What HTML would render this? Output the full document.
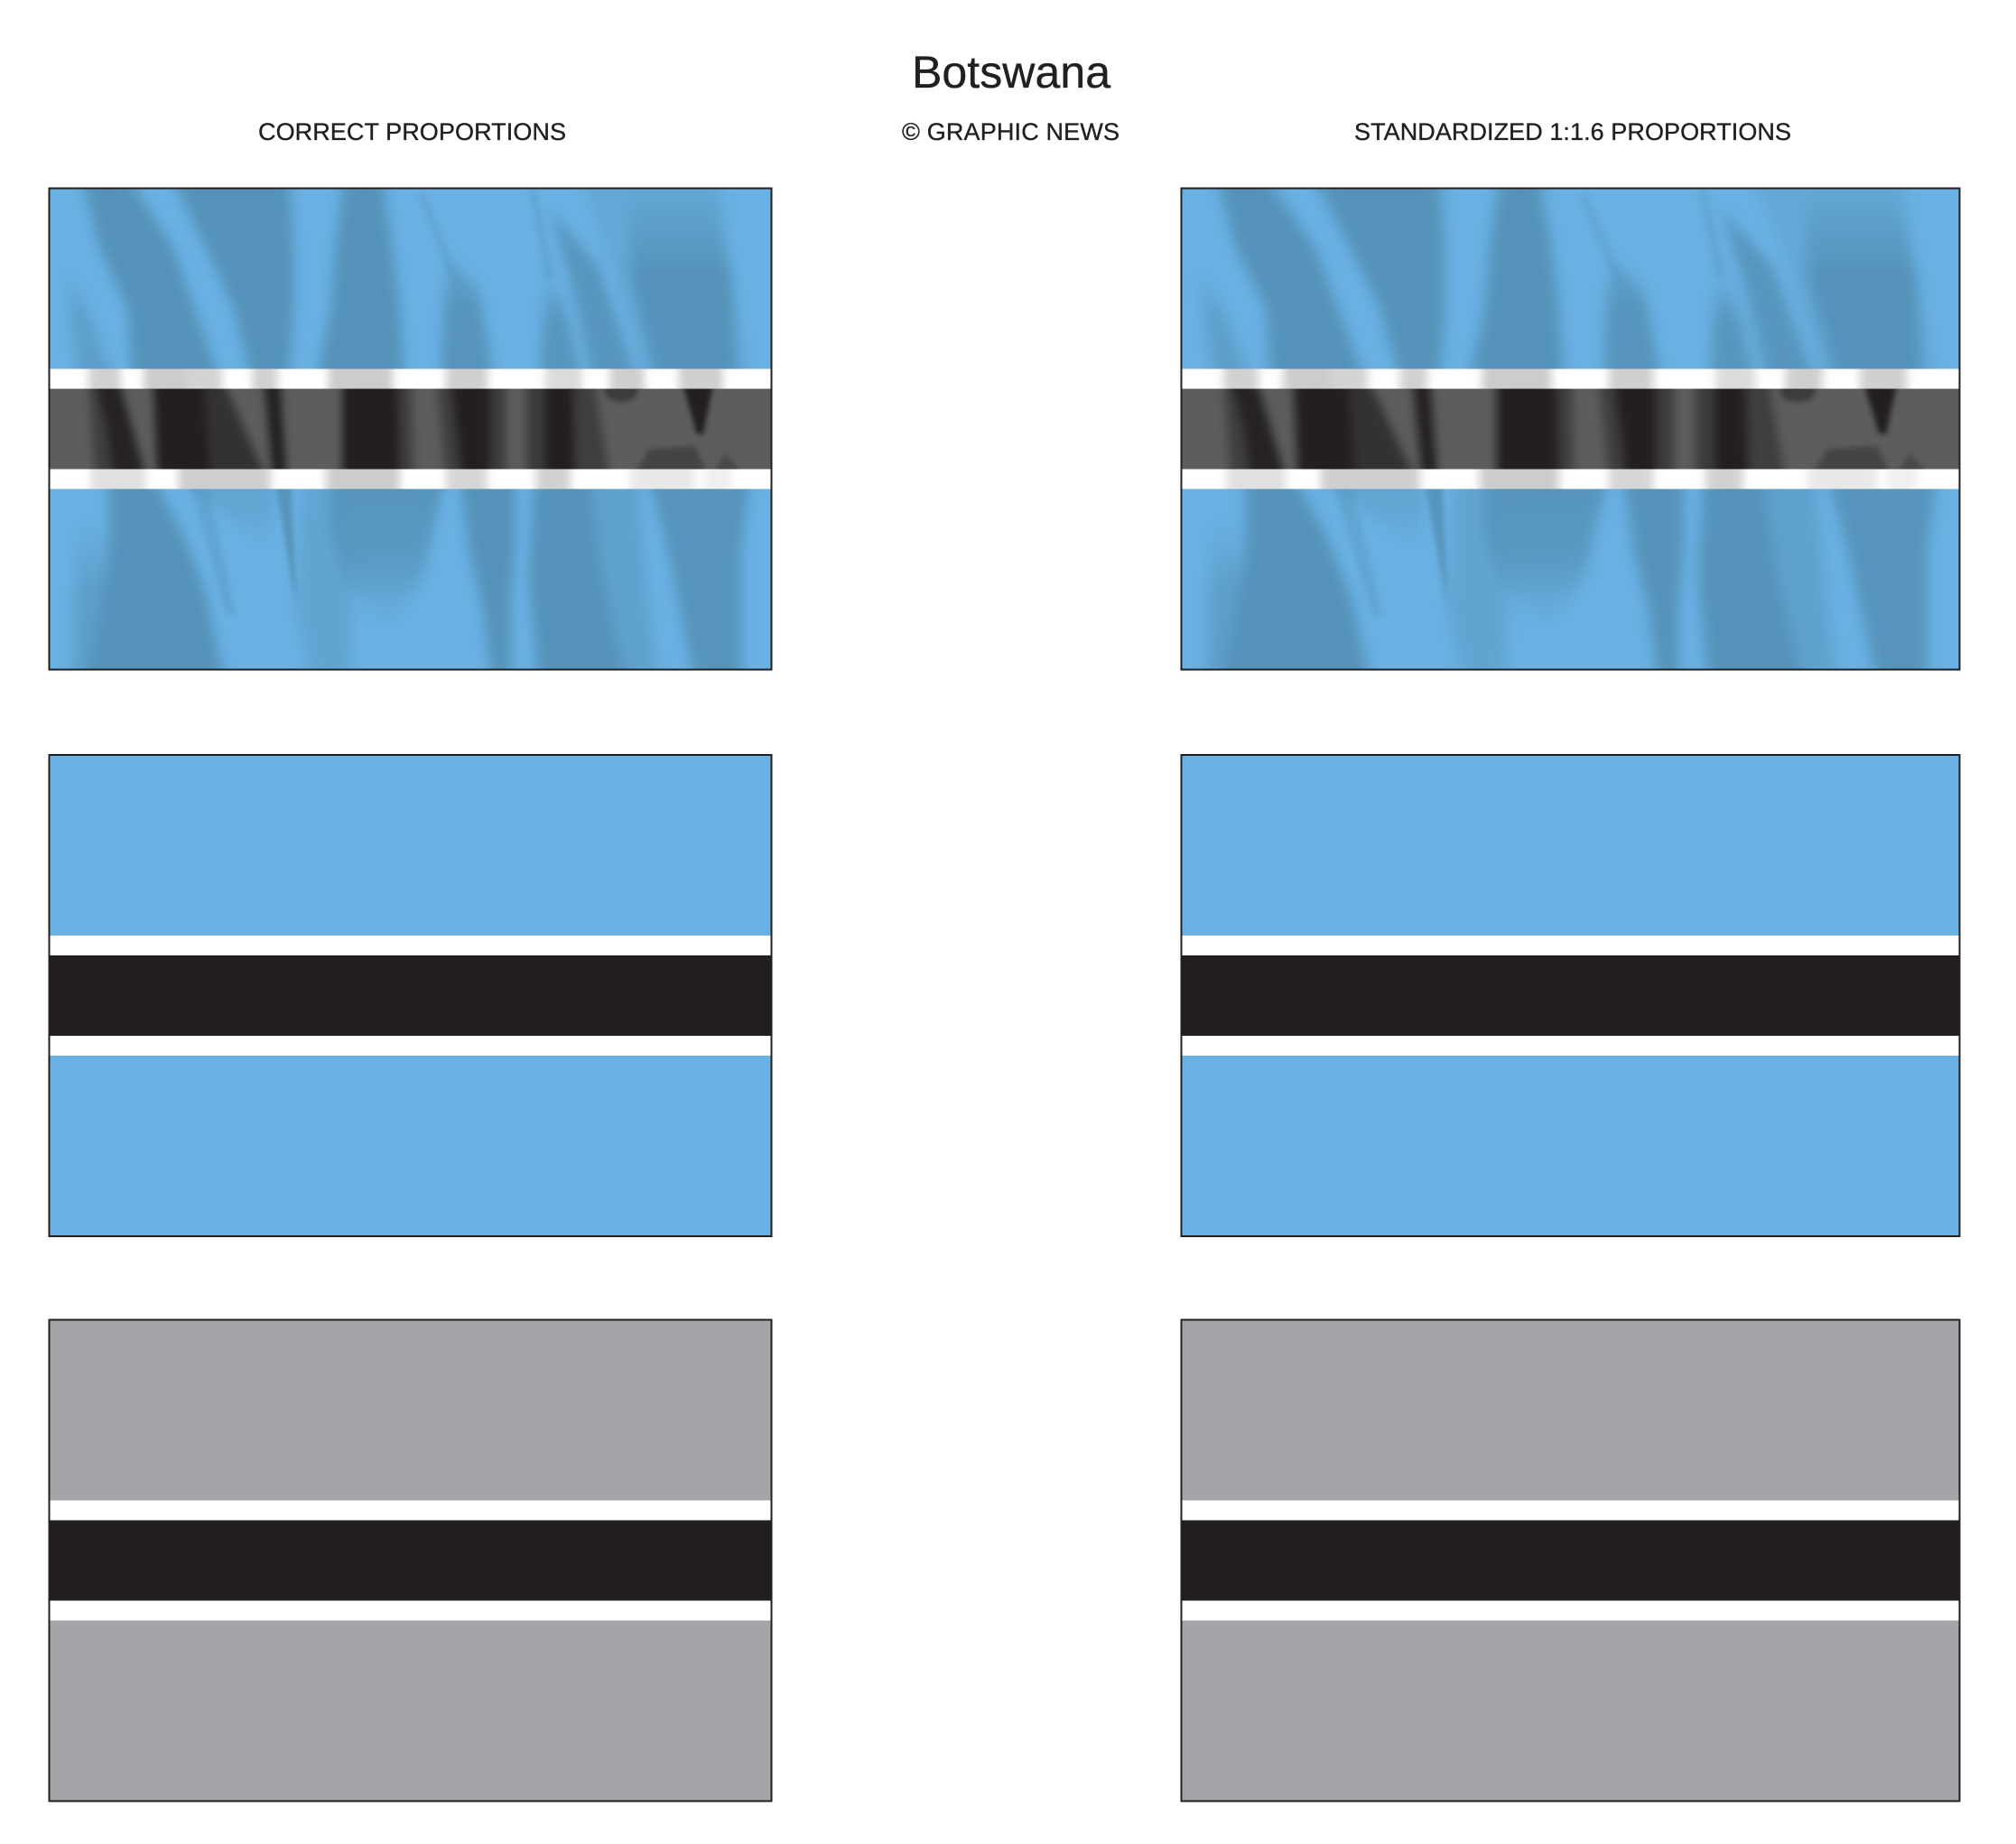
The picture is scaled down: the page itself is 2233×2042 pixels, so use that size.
<!DOCTYPE html>
<html lang="en"><head><meta charset="utf-8"><title>Botswana</title>
<style>html,body{margin:0;padding:0;background:#fff}svg{display:block}text{font-family:"Liberation Sans",Arial,sans-serif;fill:#231f20;stroke:#231f20;stroke-width:.35}</style></head>
<body>
<svg width="2233" height="2042" viewBox="0 0 2233 2042" xmlns="http://www.w3.org/2000/svg">
<defs>
<filter id="b" x="-30%" y="-30%" width="160%" height="160%" color-interpolation-filters="sRGB"><feGaussianBlur stdDeviation="7"/></filter>
<filter id="t" x="-30%" y="-30%" width="160%" height="160%" color-interpolation-filters="sRGB"><feGaussianBlur stdDeviation="3"/></filter>
<filter id="s" x="-30%" y="-30%" width="160%" height="160%" color-interpolation-filters="sRGB"><feGaussianBlur stdDeviation="5"/></filter>
<linearGradient id="f" x1="0" y1="0" x2="0" y2="1"><stop offset="0" stop-color="#fff" stop-opacity="0"/><stop offset=".45" stop-color="#fff" stop-opacity="1"/><stop offset="1" stop-color="#fff" stop-opacity="1"/></linearGradient>
<linearGradient id="r" x1="0" y1="0" x2="0" y2="1"><stop offset="0" stop-color="#fff" stop-opacity=".95"/><stop offset=".5" stop-color="#fff" stop-opacity=".8"/><stop offset="1" stop-color="#fff" stop-opacity="0"/></linearGradient>
<clipPath id="z1"><rect x="0" y="0" width="800" height="200"/></clipPath>
<clipPath id="z2"><rect x="0" y="200" width="800" height="22"/></clipPath>
<clipPath id="z3"><rect x="0" y="222" width="800" height="89"/></clipPath>
<clipPath id="z4"><rect x="0" y="311" width="800" height="22"/></clipPath>
<clipPath id="z5"><rect x="0" y="333" width="800" height="200"/></clipPath>
<mask id="m" maskUnits="userSpaceOnUse" x="0" y="0" width="800" height="533" style="mask-type:luminance">
<g fill="#fff">
<g clip-path="url(#z1)"><g filter="url(#b)"><g transform="scale(.5109,.3333)">
<polygon points="30,260 70,350 140,640 65,640 45,400" fill="url(#f)" fill-opacity=".6"/>
<polygon points="70,-40 170,-40 270,200 370,640 180,640 170,400 110,200"/>
<polygon points="265,-40 520,-40 530,200 530,400 520,640 440,640 400,400 340,200"/>
<polygon points="640,-40 720,-40 745,200 760,400 770,640 580,640 610,400 620,200"/>
<polygon points="860,200 930,330 965,640 850,640" fill="url(#f)" fill-opacity=".95"/>
<polygon points="1075,280 1100,280 1155,640 1065,640" fill="url(#f)" fill-opacity=".9"/>
<polygon points="1085,70 1190,260 1275,640 1180,640 1130,300" fill-opacity=".9"/>
<polygon points="1150,-40 1450,-40 1480,300 1520,640 1290,640 1210,200" fill-opacity=".3"/>
<polygon points="1260,0 1440,0 1480,300 1490,640 1320,640 1260,300" fill="url(#f)"/>
</g></g></g>
<g clip-path="url(#z1)"><g filter="url(#t)"><g transform="scale(.5109,.3333)">
<polygon points="800,20 815,20 905,350 880,350" fill-opacity=".35"/>
<polygon points="1040,0 1055,0 1100,300 1075,300" fill-opacity=".35"/>
</g></g></g>
<g clip-path="url(#z2)"><g filter="url(#s)"><g transform="translate(0,197) scale(.5109,.3333)">
<rect x="85" y="-40" width="70" height="160" fill-opacity=".9"/>
<rect x="205" y="-40" width="95" height="160"/>
<rect x="300" y="-40" width="75" height="160" fill-opacity=".85"/>
<rect x="440" y="-40" width="55" height="160" fill-opacity=".9"/>
<rect x="605" y="-40" width="140" height="160"/>
<rect x="860" y="-40" width="90" height="160" fill-opacity=".95"/>
<rect x="1075" y="-40" width="80" height="160" fill-opacity=".7"/>
<rect x="1215" y="-40" width="75" height="160" fill-opacity=".95"/>
<rect x="1365" y="-40" width="95" height="160" fill-opacity=".95"/>
</g></g></g>
<g clip-path="url(#z3)"><g filter="url(#s)"><g transform="translate(0,197) scale(.5109,.3333)">
<polygon points="85,40 110,40 150,370 100,370" fill-opacity=".5"/>
<polygon points="100,40 150,40 210,370 140,370 125,200" fill-opacity=".95"/>
<polygon points="225,40 335,40 350,370 235,370"/>
<polygon points="335,40 375,40 470,370 350,370" fill-opacity=".7"/>
<polygon points="465,40 500,40 515,370 485,370"/>
<polygon points="635,40 755,40 760,370 635,370"/>
<polygon points="755,40 785,40 790,370 760,370" fill-opacity=".5"/>
<polygon points="840,40 870,40 895,370 860,370" fill-opacity=".5"/>
<polygon points="870,40 955,40 955,370 895,370"/>
<polygon points="955,40 990,40 990,370 955,370" fill-opacity=".55"/>
<polygon points="1035,40 1075,40 1075,370 1035,370" fill-opacity=".55"/>
<polygon points="1075,40 1135,40 1140,370 1075,370"/>
<polygon points="1135,40 1180,40 1215,370 1140,370" fill-opacity=".5"/>
</g></g></g>
<g clip-path="url(#z3)"><g filter="url(#t)"><g transform="translate(0,197) scale(.5109,.3333)">
<ellipse cx="1240" cy="85" rx="36" ry="34" fill-opacity=".55"/>
<polygon points="1370,40 1442,40 1418,225 1404,225"/>
<polygon points="1265,370 1300,275 1400,265 1430,370" fill-opacity=".4"/>
<polygon points="1435,370 1465,290 1510,370" fill-opacity=".35"/>
</g></g></g>
<g clip-path="url(#z4)"><g filter="url(#s)"><g transform="translate(0,197) scale(.5109,.3333)">
<rect x="90" y="300" width="120" height="150" fill-opacity=".6"/>
<rect x="280" y="300" width="200" height="150" fill-opacity=".95"/>
<rect x="600" y="300" width="160" height="150"/>
<rect x="860" y="300" width="90" height="150" fill-opacity=".8"/>
<rect x="1055" y="300" width="75" height="150" fill-opacity=".9"/>
<rect x="1260" y="300" width="140" height="150" fill-opacity=".45"/>
<rect x="1420" y="300" width="60" height="150" fill-opacity=".3"/>
</g></g></g>
<g clip-path="url(#z5)"><g filter="url(#b)"><g transform="translate(0,333) scale(.5109,.3333)">
<polygon points="60,100 130,100 110,640 50,640" fill="url(#f)" fill-opacity=".6"/>
<polygon points="130,-40 225,-40 290,150 340,350 380,640 80,640 110,400 130,200"/>
<polygon points="270,-40 490,-40 480,200 400,110" fill="url(#r)" fill-opacity=".45"/>
<polygon points="550,-40 620,-40 660,300 650,640 570,640 535,400" fill-opacity=".4"/>
<polygon points="610,-40 860,-40 830,150 810,300 740,460 690,400 640,300 610,150" fill="url(#r)"/>
<polygon points="890,-40 1010,-40 1010,200 1000,400 1000,640 960,640 940,400 910,200"/>
<polygon points="1050,-40 1170,-40 1200,300 1250,640 1060,640 1040,300"/>
<polygon points="1170,-40 1275,-40 1300,400 1320,640 1240,640 1200,300" fill-opacity=".5"/>
<polygon points="1300,-40 1520,-40 1500,200 1500,640 1400,640 1340,200" fill-opacity=".95"/>
</g></g></g>
<g clip-path="url(#z5)"><g filter="url(#t)"><g transform="translate(0,333) scale(.5109,.3333)">
<polygon points="300,-40 340,-40 405,420 385,420" fill-opacity=".4"/>
<polygon points="488,-40 524,-40 537,400 525,300" fill-opacity=".95"/>
</g></g></g>
</g>
</mask>
<g id="lit">
<rect width="800" height="533" fill="#69b1e3"/>
<rect y="200" width="800" height="133" fill="#fff"/>
<rect y="222" width="800" height="89" fill="#5c5d5f"/>
</g>
<g id="shade">
<rect width="800" height="533" fill="#5592b9"/>
<rect y="200" width="800" height="133" fill="#cbccce"/>
<rect y="222" width="800" height="89" fill="#231f20"/>
</g>
<g id="wave"><use href="#lit"/><g mask="url(#m)"><use href="#shade"/></g></g>
<g id="colour">
<rect width="800" height="533" fill="#69b1e3"/>
<rect y="200" width="800" height="133" fill="#fff"/>
<rect y="222" width="800" height="89" fill="#231f20"/>
</g>
<g id="grey">
<rect width="800" height="533" fill="#a3a5a8"/>
<rect y="200" width="800" height="133" fill="#fff"/>
<rect y="222" width="800" height="89" fill="#231f20"/>
</g>
</defs>

<rect width="2233" height="2042" fill="#fff"/>

<text x="1010" y="97" font-size="50" textLength="220" lengthAdjust="spacing">Botswana</text>
<text x="286" y="155" font-size="27" textLength="341" lengthAdjust="spacing">CORRECT PROPORTIONS</text>
<text x="999" y="155" font-size="27" textLength="241" lengthAdjust="spacing">© GRAPHIC NEWS</text>
<text x="1500" y="155" font-size="27" textLength="484" lengthAdjust="spacing">STANDARDIZED 1:1.6 PROPORTIONS</text>

<g transform="translate(54.5,208.5)"><use href="#wave"/><rect width="800" height="533" fill="none" stroke="#231f20" stroke-width="2"/></g>
<g transform="translate(1308.5,208.5) scale(1.0775,1)"><use href="#wave"/></g>
<rect x="1308.5" y="208.5" width="862" height="533" fill="none" stroke="#231f20" stroke-width="2"/>

<g transform="translate(54.5,836)"><use href="#colour"/><rect width="800" height="533" fill="none" stroke="#231f20" stroke-width="2"/></g>
<g transform="translate(1308.5,836) scale(1.0775,1)"><use href="#colour"/></g>
<rect x="1308.5" y="836" width="862" height="533" fill="none" stroke="#231f20" stroke-width="2"/>

<g transform="translate(54.5,1461.5)"><use href="#grey"/><rect width="800" height="533" fill="none" stroke="#231f20" stroke-width="2"/></g>
<g transform="translate(1308.5,1461.5) scale(1.0775,1)"><use href="#grey"/></g>
<rect x="1308.5" y="1461.5" width="862" height="533" fill="none" stroke="#231f20" stroke-width="2"/>
</svg>
</body></html>
